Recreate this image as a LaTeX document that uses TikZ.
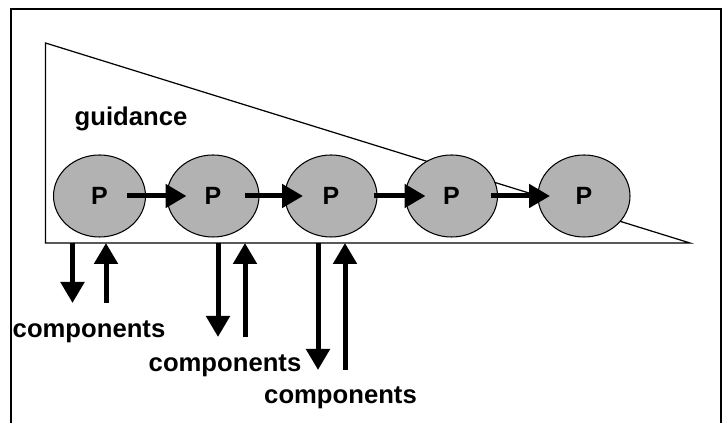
\documentclass[tikz,border=0pt]{standalone}
\usepackage{fontspec}
\setmainfont{Liberation Sans}
\usetikzlibrary{arrows.meta,shapes.geometric}

\begin{document}
\begin{tikzpicture}[
    proc/.style={ellipse,draw,line width=0.6pt,fill=gray!60,minimum width=1.84cm,minimum height=1.64cm,inner sep=0pt,font=\fontsize{14.2}{16}\selectfont\bfseries},
    flow/.style={line width=0.1cm,-{Triangle[length=0.42cm,width=0.46cm]}},
    lbl/.style={anchor=base,font=\fontsize{14.6}{17}\selectfont\bfseries}
  ]
  \useasboundingbox (0,0) rectangle (14.48,8.46);
  % frame, open at the bottom
  \draw[line width=1pt] (0.22,0)--(0.22,8.28)--(14.42,8.28)--(14.42,0);
  % guidance wedge
  \draw[line width=0.7pt] (0.91,7.6)--(0.91,3.6)--(13.8,3.6)--cycle;
  \node[lbl] (guide) at (2.62,5.94) {guidance};
  % process chain
  \node[proc] (p1) at (1.99,4.54) {P};
  \node[proc] (p2) at (4.26,4.54) {P};
  \node[proc] (p3) at (6.62,4.54) {P};
  \node[proc] (p4) at (9.03,4.54) {P};
  \node[proc] (p5) at (11.68,4.54) {P};
  \draw[flow,shorten <=0.55cm,shorten >=0.53cm] (p1.center)--(p2.center);
  \draw[flow,shorten <=0.64cm,shorten >=0.56cm] (p2.center)--(p3.center);
  \draw[flow,shorten <=0.86cm,shorten >=0.52cm] (p3.center)--(p4.center);
  \draw[flow,shorten <=0.79cm,shorten >=0.68cm] (p4.center)--(p5.center);
  % components in and out
  \coordinate (out1) at (1.45,3.6);  \coordinate (out1e) at (1.45,2.4);
  \coordinate (in1)  at (2.12,3.6);  \coordinate (in1s)  at (2.12,2.4);
  \coordinate (out2) at (4.36,3.6);  \coordinate (out2e) at (4.36,1.72);
  \coordinate (in2)  at (4.9,3.6);   \coordinate (in2s)  at (4.9,1.72);
  \coordinate (out3) at (6.36,3.6);  \coordinate (out3e) at (6.36,1.06);
  \coordinate (in3)  at (6.9,3.6);   \coordinate (in3s)  at (6.9,1.06);
  \draw[flow] (out1)--(out1e);
  \draw[flow] (in1s)--(in1);
  \draw[flow] (out2)--(out2e);
  \draw[flow] (in2s)--(in2);
  \draw[flow] (out3)--(out3e);
  \draw[flow] (in3s)--(in3);
  \node[lbl] (comp1) at (1.78,1.7) {components};
  \node[lbl] (comp2) at (4.5,1.02) {components};
  \node[lbl] (comp3) at (6.81,0.38) {components};
\end{tikzpicture}
\end{document}
